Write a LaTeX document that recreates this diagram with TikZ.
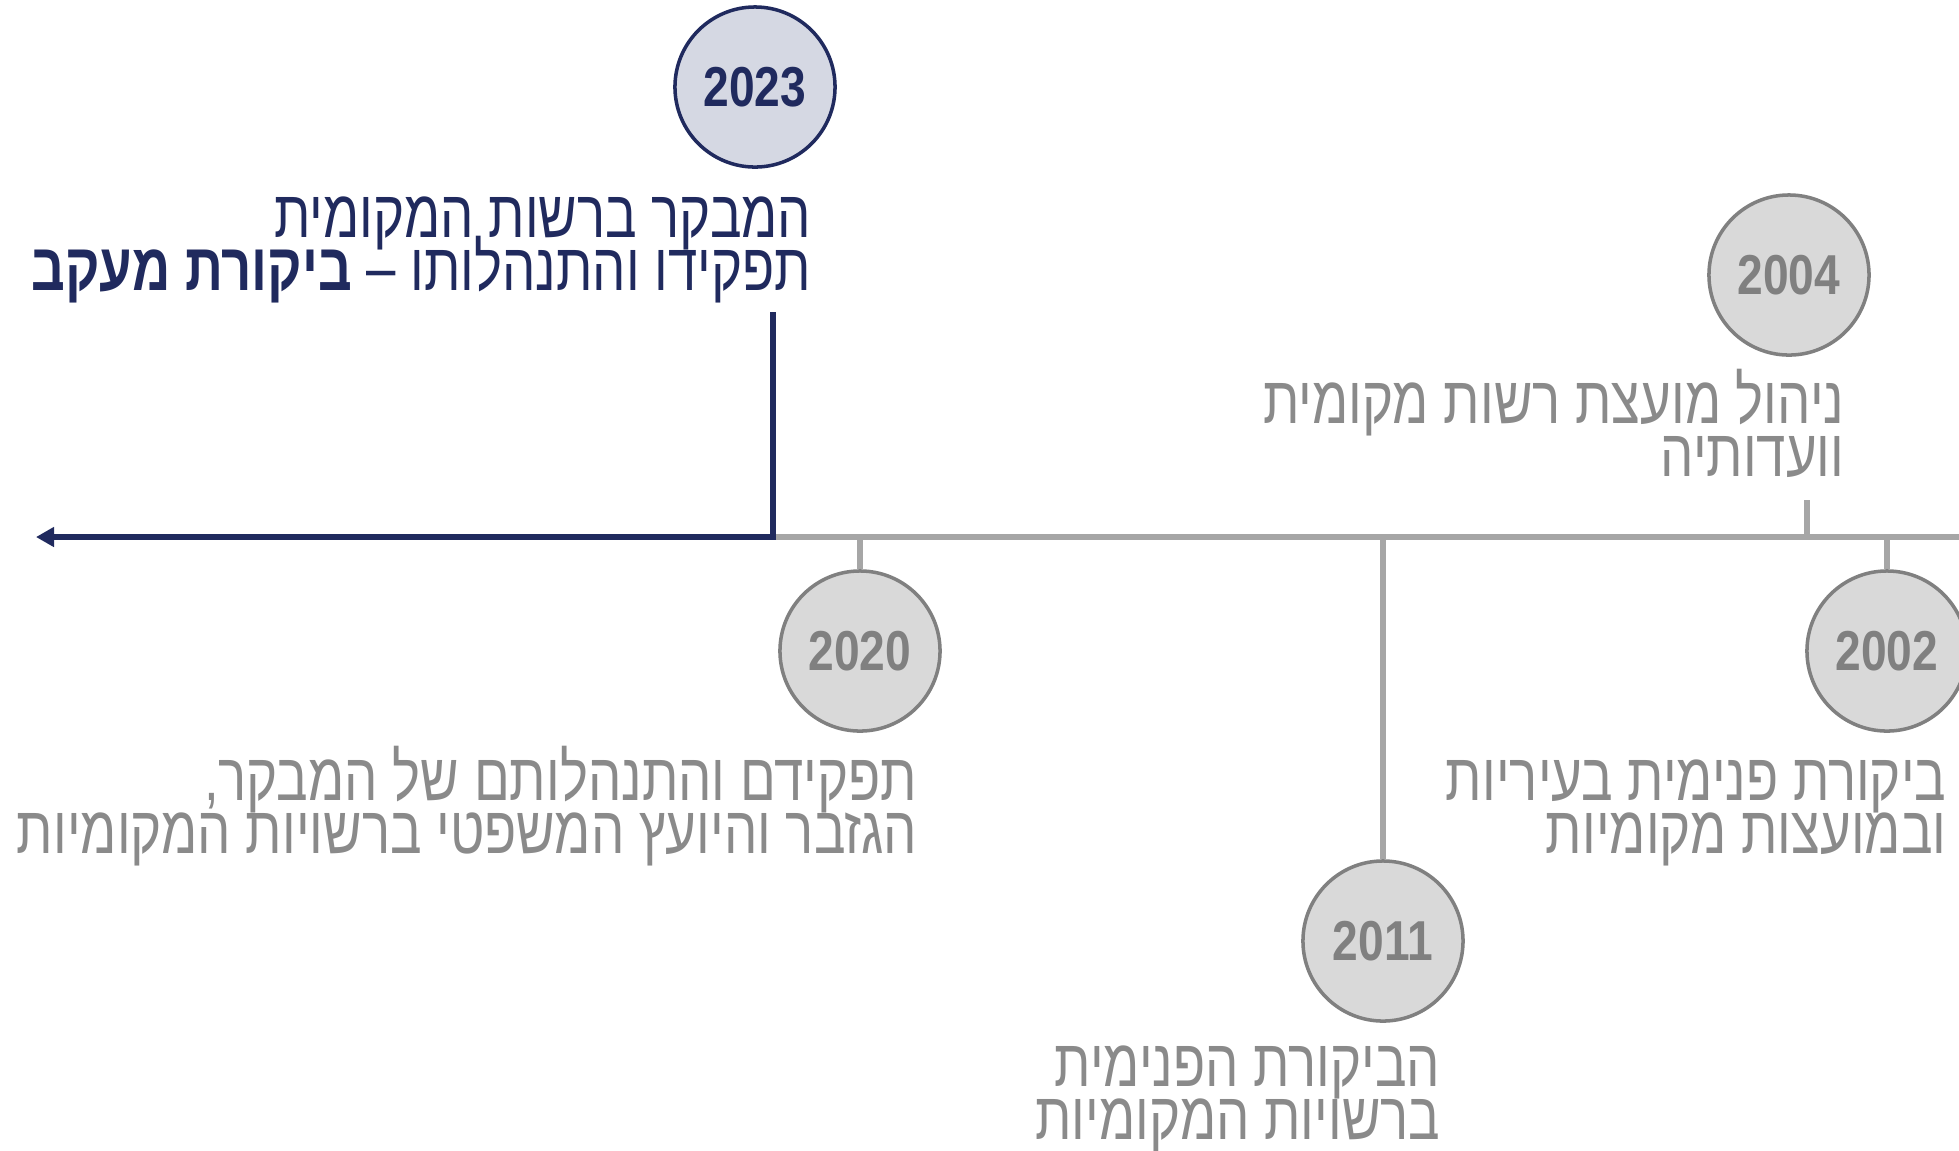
\documentclass[tikz,border=0pt]{standalone}
\usepackage{fontspec}
\usepackage{xcolor}
\usepackage{tikz}
\usetikzlibrary{arrows.meta}
\TeXXeTstate=1
\newfontfamily\hebfont[Script=Hebrew,FakeStretch=0.79]{Liberation Sans}
\newfontfamily\yearfont[FakeStretch=0.82]{Liberation Sans}
\newcommand\tightlines{\lineskiplimit-30pt\lineskip0pt\relax}
\definecolor{navy}{HTML}{202A5E}
\definecolor{lavender}{HTML}{D5D8E3}
\definecolor{circfill}{HTML}{D9D9D9}
\definecolor{circline}{HTML}{808080}
\definecolor{axisgrey}{HTML}{A6A6A6}
\definecolor{textgrey}{HTML}{8A8A8A}

\begin{document}
\begin{tikzpicture}[x=0.01cm, y=-0.01cm,
	year/.style={circle, draw=circline, fill=circfill, line width=1pt, minimum size=1.6cm, inner sep=0pt,
		text=circline, font=\yearfont\bfseries\fontsize{16}{16}\selectfont},
	yearnow/.style={year, draw=navy, fill=lavender, text=navy},
	label/.style={anchor=base east, align=right, inner sep=0pt, text=textgrey,
		font=\hebfont\fontsize{19}{15}\selectfont\tightlines},
	axis/.style={line width=1.7pt, draw=axisgrey},
	tick/.style={line width=1.7pt, draw=axisgrey}]
		\useasboundingbox (0,0) rectangle (1959,1150);
		\node[yearnow] at (755,87)  (c2023){2023};
		\node[year]    at (1789,275) (c2004){2004};
		\node[year]    at (860,651)  (c2020){2020};
		\node[year]    at (1383,941) (c2011){2011};
		\node[year]    at (1887,651) (c2002){2002};
		\node[label, text=navy] at (812,290) (t2023){\beginR המבקר ברשות המקומית\endR\\\beginR תפקידו והתנהלותו – \textbf{ביקורת מעקב}\endR};
		\node[label] at (1845,476) (t2004){\beginR ניהול מועצת רשות מקומית\endR\\\beginR וועדותיה\endR};
		\node[label] at (918,853)  (t2020){\beginR תפקידם והתנהלותם של המבקר,\endR\\\beginR הגזבר והיועץ המשפטי ברשויות המקומיות\endR};
		\node[label] at (1947,853) (t2002){\beginR ביקורת פנימית בעיריות\endR\\\beginR ובמועצות מקומיות\endR};
		\node[label] at (1441,1139) (t2011){\beginR הביקורת הפנימית\endR\\\beginR ברשויות המקומיות\endR};
		\coordinate (p2023) at (773,537);
		\coordinate (q2023) at (773,312);
		\coordinate (p2020) at (860,537);
		\coordinate (p2011) at (1383,537);
		\coordinate (p2004) at (1807,537);
		\coordinate (q2004) at (1807,500);
		\coordinate (p2002) at (1887,537);
		\coordinate (tip) at (36,537);
		\coordinate (rightend) at (1959,537);
		\draw[axis] (p2023) -- (rightend);
		\draw[tick] (c2020.north) -- (p2020);
		\draw[tick] (c2011.north) -- (p2011);
		\draw[tick] (c2002.north) -- (p2002);
		\draw[tick] (q2004) -- (p2004);
		\draw[line width=1.7pt, navy, -{Triangle[length=0.18cm, width=0.19cm]}] (q2023) -- (p2023) -- (tip);
	\end{tikzpicture}
\end{document}
